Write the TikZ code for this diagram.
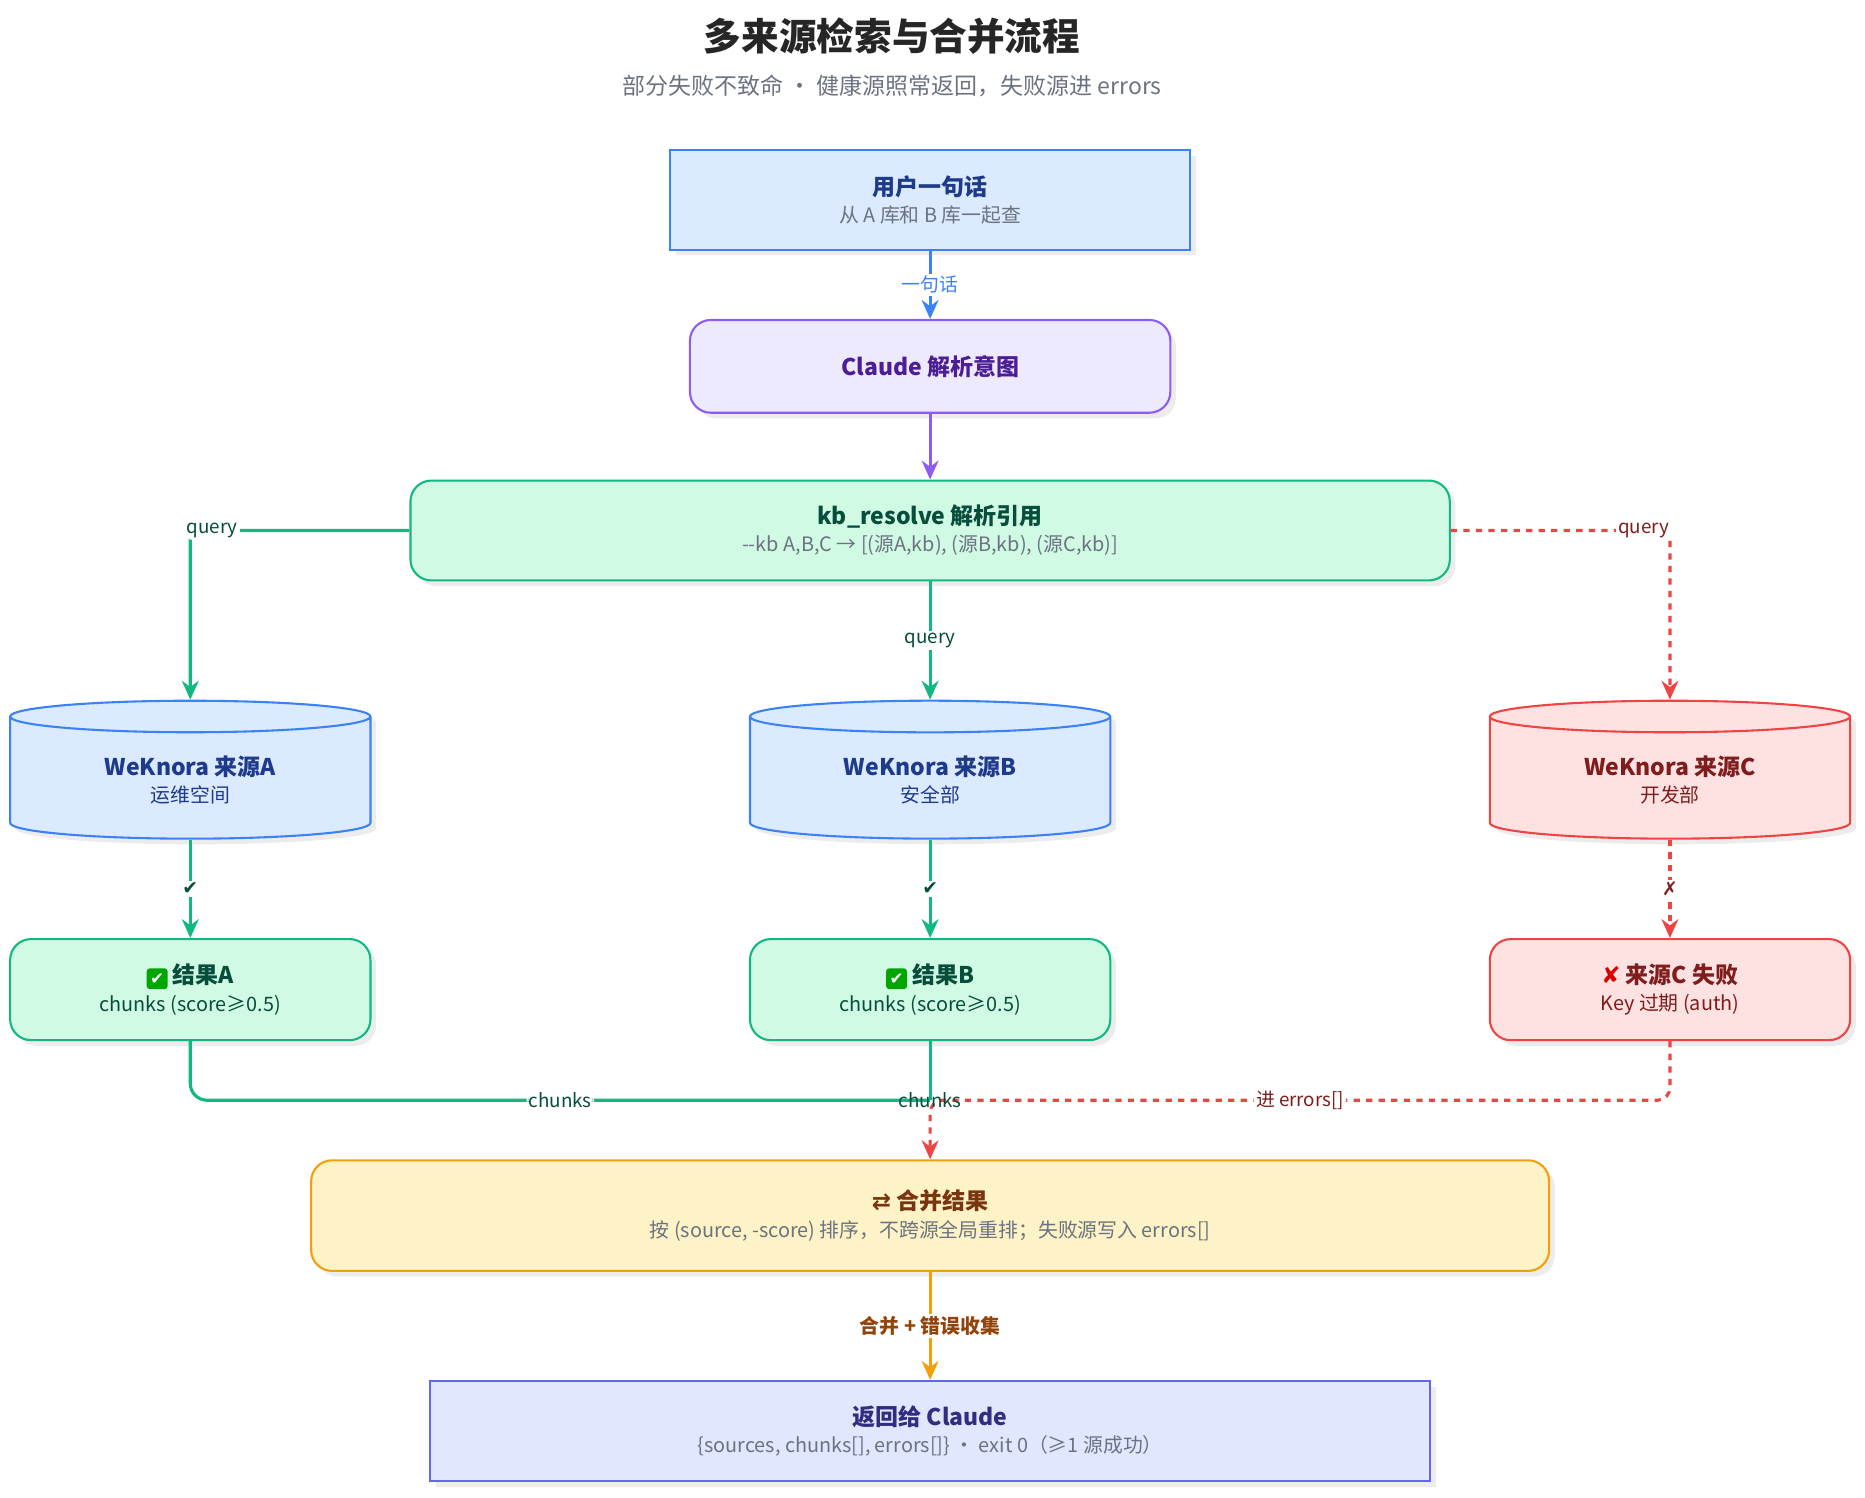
\documentclass[tikz,border=0pt]{standalone}
\usepackage{fontspec}
\setmainfont{Noto Sans CJK SC}
\newfontfamily\symfont{DejaVu Sans}
\usetikzlibrary{shapes.geometric,shadows,arrows.meta}
\definecolor{blueD}{HTML}{3B82F6}\definecolor{blueL}{HTML}{DBEAFE}\definecolor{blueT}{HTML}{1E3A8A}
\definecolor{purD}{HTML}{8B5CF6}\definecolor{purL}{HTML}{EDE9FE}\definecolor{purT}{HTML}{4C1D95}
\definecolor{grnD}{HTML}{10B981}\definecolor{grnL}{HTML}{D1FAE5}\definecolor{grnT}{HTML}{064E3B}
\definecolor{redD}{HTML}{EF4444}\definecolor{redL}{HTML}{FEE2E2}\definecolor{redT}{HTML}{7F1D1D}
\definecolor{ylwD}{HTML}{F59E0B}\definecolor{ylwL}{HTML}{FEF3C7}\definecolor{ylwT}{HTML}{78350F}
\definecolor{indD}{HTML}{6366F1}\definecolor{indL}{HTML}{E0E7FF}\definecolor{indT}{HTML}{312E81}
\definecolor{grayT}{HTML}{6B7280}
\begin{document}
\begin{tikzpicture}[x=0.02cm,y=-0.02cm]

\tikzstyle{box} = [draw, line width=1pt, align=center, font=\fontsize{11}{15}\selectfont, drop shadow={opacity=0.15}];
\tikzstyle{rbox} = [box, rounded corners=10pt];
\tikzstyle{db} = [cylinder, shape border rotate=90, aspect=0.17, draw, line width=1pt, minimum width=6.06cm, minimum height=2.32cm, align=center, font=\fontsize{11}{15}\selectfont, drop shadow={opacity=0.15}];
\tikzstyle{flow} = [-{Stealth[length=9pt,width=8pt]}, line width=1.5pt];
\tikzstyle{lbl} = [fill=white, inner sep=1pt, font=\fontsize{9}{11}\selectfont];
\newcommand{\sub}[1]{\\[-2pt]{\fontsize{9.5}{12}\selectfont #1}}
\newcommand{\okmark}{\tikz[baseline=-2.5pt]\node[fill=green!65!black, text=white, rounded corners=1.5pt, inner sep=0.6pt, minimum size=10pt, font=\symfont\fontsize{8}{8}\selectfont]{✔};}

\useasboundingbox (0,0) rectangle (1568,1259);

\node[font=\bfseries\fontsize{18}{22}\selectfont, text=black!85] (title) at (750,30) {多来源检索与合并流程};
\node[font=\fontsize{11}{14}\selectfont, text=grayT] (subtitle) at (750,72) {部分失败不致命 · 健康源照常返回，失败源进 errors};

\node[box, draw=blueD, fill=blueL, minimum width=8.74cm, minimum height=1.68cm] (user) at (782,168) {\textcolor{blueT}{\bfseries 用户一句话}\sub{\textcolor{grayT}{从 A 库和 B 库一起查}}};
\node[rbox, draw=purD, fill=purL, minimum width=8.08cm, minimum height=1.56cm, text=purT, font=\bfseries\fontsize{11}{15}\selectfont] (claude) at (782,308) {Claude 解析意图};
\node[rbox, draw=grnD, fill=grnL, minimum width=17.48cm, minimum height=1.68cm] (resolve) at (782,446) {\textcolor{grnT}{\bfseries kb\_resolve 解析引用}\sub{\textcolor{grayT}{-{}-kb A,B,C → [(源A,kb), (源B,kb), (源C,kb)]}}};

\node[db, draw=blueD, fill=blueL] (srcA) at (160,656) {\textcolor{blueT}{\bfseries WeKnora 来源A}\sub{\textcolor{blueT}{运维空间}}};
\node[db, draw=blueD, fill=blueL] (srcB) at (782,656) {\textcolor{blueT}{\bfseries WeKnora 来源B}\sub{\textcolor{blueT}{安全部}}};
\node[db, draw=redD, fill=redL] (srcC) at (1404,656) {\textcolor{redT}{\bfseries WeKnora 来源C}\sub{\textcolor{redT}{开发部}}};

\node[rbox, draw=grnD, fill=grnL, minimum width=6.06cm, minimum height=1.7cm] (resA) at (160,832) {\textcolor{grnT}{\okmark\ \bfseries 结果A}\sub{\textcolor{grnT}{chunks (score≥0.5)}}};
\node[rbox, draw=grnD, fill=grnL, minimum width=6.06cm, minimum height=1.7cm] (resB) at (782,832) {\textcolor{grnT}{\okmark\ \bfseries 结果B}\sub{\textcolor{grnT}{chunks (score≥0.5)}}};
\node[rbox, draw=redD, fill=redL, minimum width=6.06cm, minimum height=1.7cm] (resC) at (1404,832) {\textcolor{redT}{\bfseries{\symfont\textcolor{red!85!black}{✘}} 来源C 失败}\sub{\textcolor{redT}{Key 过期 (auth)}}};

\node[rbox, draw=ylwD, fill=ylwL, minimum width=20.82cm, minimum height=1.86cm] (merge) at (782,1022) {\textcolor{ylwT}{\bfseries{\symfont ⇄} 合并结果}\sub{\textcolor{grayT}{按 (source, -score) 排序，不跨源全局重排；失败源写入 errors[]}}};
\node[box, draw=indD, fill=indL, minimum width=16.82cm, minimum height=1.68cm] (final) at (782,1203) {\textcolor{indT}{\bfseries 返回给 Claude}\sub{\textcolor{grayT}{\{sources, chunks[], errors[]\} · exit 0（≥1 源成功）}}};

\coordinate (qa) at (160,446);
\coordinate (qc) at (1404,446);
\coordinate (ma) at (160,925);
\coordinate (mc) at (1404,925);
\coordinate (mm) at (782,925);

\draw[flow, blueD] (user) -- node[lbl, text=blueD]{一句话} (claude);
\draw[flow, purD] (claude) -- (resolve);
\draw[flow, grnD, rounded corners=4pt] (resolve.west) -- node[lbl, text=grnT, pos=0.9]{query} (qa) -- (srcA.top);
\draw[flow, grnD] (resolve) -- node[lbl, text=grnT]{query} (srcB.top);
\draw[flow, redD, dashed, rounded corners=4pt] (resolve.east) -- node[lbl, text=redT, pos=0.88]{query} (qc) -- (srcC.top);

\draw[flow, grnD] (srcA.bottom) -- node[lbl, text=grnT]{\symfont ✔} (resA);
\draw[flow, grnD] (srcB.bottom) -- node[lbl, text=grnT]{\symfont ✔} (resB);
\draw[flow, redD, dashed] (srcC.bottom) -- node[lbl, text=redT]{\symfont ✗} (resC);

\draw[line width=1.5pt, grnD, rounded corners=8pt] (resA) -- (ma) -- node[lbl, text=grnT]{chunks} (mm);
\draw[line width=1.5pt, grnD] (resB) -- (mm);
\draw[flow, redD, dashed, rounded corners=6pt] (resC) -- (mc) -- node[lbl, text=redT]{进 errors[]} (mm) -- (merge);
\node[lbl, text=grnT, fill=none] (chB) at (mm) {chunks};

\draw[flow, ylwD] (merge) -- node[lbl, text=ylwT!80!orange, font=\bfseries\fontsize{9.5}{11}\selectfont]{合并 + 错误收集} (final);
\end{tikzpicture}
\end{document}
